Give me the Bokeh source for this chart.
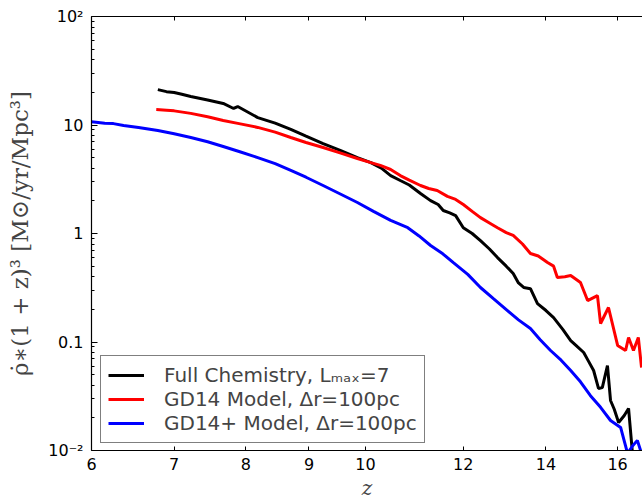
from bokeh.plotting import figure
from bokeh.models import (FixedTicker, CustomJSTickFormatter, LogAxis, Range1d,
                          Legend, LegendItem)
from bokeh.embed import file_html
from bokeh.resources import INLINE

# ---- data ----
full_z = [6.79, 6.9, 7.0, 7.1, 7.22, 7.45, 7.67, 7.82, 7.88, 8.18, 8.45, 8.70, 8.95, 9.24,
          9.55, 9.85, 10.1, 10.3, 10.48, 10.67, 10.85, 11.08, 11.29, 11.45, 11.56, 11.7,
          11.83, 12.0, 12.2, 12.39, 12.6, 12.79, 13.0, 13.17, 13.3, 13.43, 13.6, 13.78,
          14.0, 14.2, 14.45, 14.66, 14.85, 15.02, 15.15, 15.30, 15.44, 15.55, 15.70,
          15.79, 15.9, 16.03, 16.2, 16.33, 16.45]
full_v = [21.2, 20.3, 19.9, 19.2, 18.3, 17.0, 15.8, 14.2, 14.8, 11.7, 10.4, 9.1, 7.9, 6.75,
          5.8, 5.01, 4.5, 4.0, 3.42, 3.08, 2.8, 2.34, 2.01, 1.85, 1.63, 1.55,
          1.46, 1.13, 1.0, 0.86, 0.72, 0.60, 0.50, 0.428, 0.35, 0.318, 0.31, 0.226,
          0.195, 0.168, 0.13, 0.103, 0.09, 0.080, 0.067, 0.0546, 0.0373, 0.038, 0.0607,
          0.0289, 0.024, 0.0181, 0.021, 0.0244, 0.0094]

gd14_z = [6.77, 6.9, 7.0, 7.22, 7.45, 7.67, 7.9, 8.18, 8.45, 8.70, 8.95, 9.24, 9.55, 9.85,
          10.1, 10.28, 10.48, 10.67, 10.85, 11.08, 11.25, 11.43, 11.65, 11.83, 12.0, 12.2,
          12.39, 12.6, 12.79, 13.0, 13.17, 13.4, 13.60, 13.8, 14.04, 14.2, 14.30, 14.5,
          14.66, 14.93, 15.13, 15.41, 15.50, 15.73, 16.0, 16.24, 16.33, 16.48, 16.63, 16.73]
gd14_v = [13.9, 13.7, 13.5, 12.8, 11.9, 11.0, 10.3, 9.5, 8.6, 7.67, 6.9, 6.2, 5.5, 4.91,
          4.5, 4.24, 3.89, 3.42, 3.1, 2.77, 2.6, 2.49, 2.2, 2.06, 1.85, 1.6,
          1.40, 1.25, 1.13, 1.02, 0.96, 0.80, 0.654, 0.62, 0.54, 0.50, 0.393, 0.40,
          0.41, 0.353, 0.241, 0.268, 0.148, 0.208, 0.093, 0.0835, 0.11, 0.0835, 0.11, 0.058]

gdp_z = [6.0, 6.15, 6.25, 6.37, 6.55, 6.79, 7.0, 7.22, 7.45, 7.67, 7.9, 8.18, 8.45, 8.70,
         8.95, 9.24, 9.55, 9.85, 10.15, 10.48, 10.82, 11.05, 11.29, 11.55, 11.78, 12.1,
         12.39, 12.7, 13.03, 13.3, 13.60, 13.85, 14.12, 14.4, 14.66, 14.93, 15.21, 15.5,
         15.79, 16.09, 16.30, 16.45, 16.60, 16.73]
gdp_v = [10.7, 10.4, 10.3, 9.9, 9.5, 8.9, 8.3, 7.67, 7.0, 6.34, 5.7, 5.01, 4.4, 3.81,
         3.3, 2.77, 2.3, 1.93, 1.6, 1.32, 1.13, 0.95, 0.775, 0.65, 0.54, 0.42,
         0.318, 0.25, 0.195, 0.16, 0.133, 0.105, 0.0835, 0.068, 0.0546, 0.043, 0.032, 0.025,
         0.0189, 0.0163, 0.0094, 0.011, 0.0124, 0.0094]

x_ticks = [6, 7, 8, 9, 10, 12, 14, 16]
y_ticks = [0.01, 0.1, 1, 10, 100]
y_minor = [m * d for d in [0.01, 0.1, 1, 10] for m in range(2, 10)]

labels = ["Full Chemistry, Lₘₐₓ=7", "GD14 Model, Δr=100pc", "GD14+ Model, Δr=100pc"]
colors = ["black", "#ff0000", "#0000ff"]

# ---- figure ----
p = figure(frame_width=551, frame_height=434, x_axis_type="log", y_axis_type="log",
           x_range=Range1d(6, 16.76), y_range=Range1d(0.01, 100),
           output_backend="svg", toolbar_location=None,
           min_border_left=91, min_border_right=0, min_border_top=16, min_border_bottom=48)
p.outline_line_color = None
p.grid.visible = False
p.background_fill_color = "white"

r1 = p.line(full_z, full_v, line_color=colors[0], line_width=3)
r2 = p.line(gd14_z, gd14_v, line_color=colors[1], line_width=3)
r3 = p.line(gdp_z, gdp_v, line_color=colors[2], line_width=3)

xa = p.xaxis[0]
xa.ticker = FixedTicker(ticks=x_ticks, minor_ticks=[])
xa.formatter = CustomJSTickFormatter(code="return String(Math.round(tick));")
ya = p.yaxis[0]
ya.ticker = FixedTicker(ticks=y_ticks, minor_ticks=y_minor)
ya.formatter = CustomJSTickFormatter(code="""
if (tick > 50) return "10\u00b2";
if (tick > 5) return "10";
if (tick > 0.5) return "1";
if (tick > 0.05) return "0.1";
return "10\u207b\u00b2";
""")

for ax in (xa, ya):
    ax.major_tick_in = 6
    ax.major_tick_out = 0
    ax.minor_tick_in = 3
    ax.minor_tick_out = 0
    ax.axis_line_color = "black"
    ax.axis_line_width = 1.2
    ax.major_label_text_font = "DejaVu Sans"
    ax.major_label_text_font_size = "16px"
    ax.major_label_text_color = "black"
    ax.major_label_standoff = 8

xa.major_tick_in = 4
xa.major_label_standoff = 7
xa.axis_label = "z"
xa.axis_label_text_font = "DejaVu Serif"
xa.axis_label_text_font_style = "italic"
xa.axis_label_text_font_size = "20px"
xa.axis_label_standoff = 3

ya.axis_label = "ρ̇∗(1 + z)³ [M⊙/yr/Mpc³]"
ya.axis_label_text_font = "DejaVu Serif"
ya.axis_label_text_font_style = "normal"
ya.axis_label_text_font_size = "23px"
ya.axis_label_standoff = 12

top = LogAxis(ticker=FixedTicker(ticks=x_ticks, minor_ticks=[]),
              formatter=CustomJSTickFormatter(code="return '';"))
top.major_tick_in = 4
top.major_tick_out = 0
top.minor_tick_in = 0
top.minor_tick_out = 0
top.axis_line_color = "black"
top.axis_line_width = 1.2
top.major_label_standoff = 0
p.add_layout(top, "above")

legend = Legend(items=[LegendItem(label=labels[0], renderers=[r1]),
                       LegendItem(label=labels[1], renderers=[r2]),
                       LegendItem(label=labels[2], renderers=[r3])],
                location=(9, 7))
legend.label_text_font = "DejaVu Sans"
legend.label_text_font_size = "20px"
legend.border_line_color = "black"
legend.border_line_width = 1.2
legend.glyph_width = 36
legend.glyph_height = 20
legend.label_height = 20
legend.label_standoff = 20
legend.spacing = 0
legend.padding = 7
legend.margin = 0
legend.background_fill_alpha = 1
p.add_layout(legend, "center")

open("out.html", "w").write(file_html(p, INLINE))
